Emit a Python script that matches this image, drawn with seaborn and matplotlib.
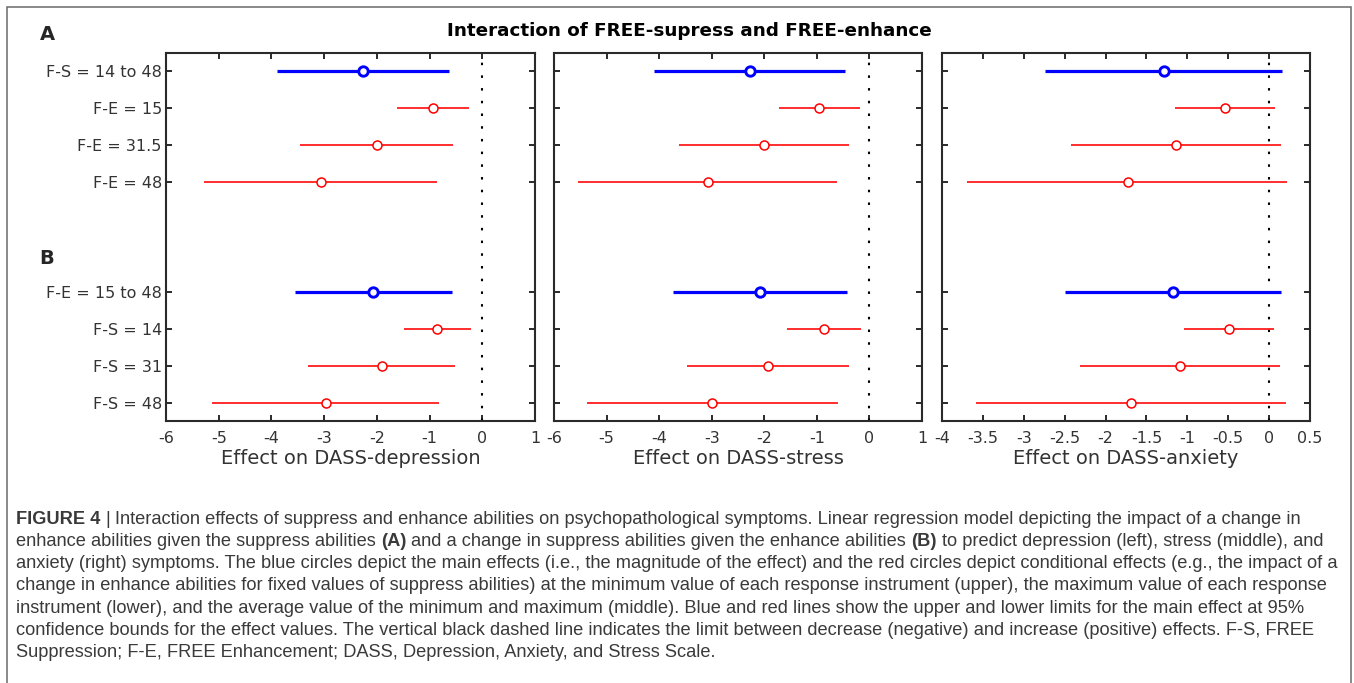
import numpy as np
import pandas as pd
import matplotlib
matplotlib.use('Agg')
import matplotlib.pyplot as plt
from matplotlib.patches import Rectangle
import seaborn as sns

# row labels (group A on top, group B below)
labels_a = ['F-S = 14 to 48', 'F-E = 15', 'F-E = 31.5', 'F-E = 48']
labels_b = ['F-E = 15 to 48', 'F-S = 14', 'F-S = 31', 'F-S = 48']
kinds = ['main', 'cond', 'cond', 'cond', 'main', 'cond', 'cond', 'cond']

# effect estimates and 95% bounds
dep_est = [-2.27, -0.94, -2.00, -3.06, -2.07, -0.85, -1.91, -2.97]
dep_lo = [-3.89, -1.62, -3.45, -5.27, -3.56, -1.48, -3.30, -5.12]
dep_hi = [-0.63, -0.26, -0.55, -0.85, -0.57, -0.22, -0.52, -0.82]

str_est = [-2.28, -0.95, -2.01, -3.07, -2.09, -0.86, -1.92, -2.99]
str_lo = [-4.10, -1.72, -3.63, -5.54, -3.74, -1.56, -3.47, -5.38]
str_hi = [-0.46, -0.18, -0.39, -0.62, -0.42, -0.16, -0.38, -0.60]

anx_est = [-1.29, -0.54, -1.14, -1.73, -1.18, -0.49, -1.09, -1.69]
anx_lo = [-2.74, -1.15, -2.42, -3.69, -2.50, -1.04, -2.31, -3.58]
anx_hi = [0.16, 0.07, 0.14, 0.22, 0.15, 0.06, 0.13, 0.21]

xlabels = ['Effect on DASS-depression', 'Effect on DASS-stress', 'Effect on DASS-anxiety']
title = 'Interaction of FREE-supress and FREE-enhance'

caption = [
    [('FIGURE 4', 'bold'), (' | ', 'normal'),
     ('Interaction effects of suppress and enhance abilities on psychopathological symptoms. '
      'Linear regression model depicting the impact of a change in', 'normal')],
    [('enhance abilities given the suppress abilities ', 'normal'), ('(A)', 'bold'),
     (' and a change in suppress abilities given the enhance abilities ', 'normal'), ('(B)', 'bold'),
     (' to predict depression (left), stress (middle), and', 'normal')],
    [('anxiety (right) symptoms. The blue circles depict the main effects (i.e., the magnitude of the '
      'effect) and the red circles depict conditional effects (e.g., the impact of a', 'normal')],
    [('change in enhance abilities for fixed values of suppress abilities) at the minimum value of each '
      'response instrument (upper), the maximum value of each response', 'normal')],
    [('instrument (lower), and the average value of the minimum and maximum (middle). Blue and red lines '
      'show the upper and lower limits for the main effect at 95%', 'normal')],
    [('confidence bounds for the effect values. The vertical black dashed line indicates the limit between '
      'decrease (negative) and increase (positive) effects. F-S, FREE', 'normal')],
    [('Suppression; F-E, FREE Enhancement; DASS, Depression, Anxiety, and Stress Scale.', 'normal')],
]

# y positions: group A rows 1-4, gap, group B rows 7-10
row_labels = labels_a + labels_b
pos = list(range(1, len(labels_a) + 1)) + list(range(len(labels_a) + 3, len(labels_a) + 3 + len(labels_b)))

panels = [
    (dep_est, dep_lo, dep_hi, np.arange(-6, 1.01, 1), (-6, 1)),
    (str_est, str_lo, str_hi, np.arange(-6, 1.01, 1), (-6, 1)),
    (anx_est, anx_lo, anx_hi, np.arange(-4, 0.51, 0.5), (-4, 0.5)),
]

sns.set_theme(style='ticks')
plt.rcParams['font.family'] = ['DejaVu Sans']
plt.rcParams['xtick.direction'] = 'in'
plt.rcParams['ytick.direction'] = 'in'

W, H = 1354, 683
fig = plt.figure(figsize=(W / 100, H / 100), dpi=100)
fig.patch.set_facecolor('white')

ax_boxes = [(166, 535), (554, 922), (942, 1310)]
top_px, bot_px = 52.7, 421
colors = {'main': 'blue', 'cond': 'red'}

for i, (est, lo, hi, ticks, lim) in enumerate(panels):
    x0, x1 = ax_boxes[i]
    ax = fig.add_axes([x0 / W, 1 - bot_px / H, (x1 - x0) / W, (bot_px - top_px) / H])
    df = pd.DataFrame({'label': row_labels, 'pos': pos, 'est': est, 'lo': lo, 'hi': hi, 'kind': kinds})

    ax.axvline(0, color='black', lw=1.5, ls=(0, (1.2, 4.9)), zorder=1)
    for kind, lw, mlw, ms in [('cond', 1.15, 1.1, 42), ('main', 2.3, 2.1, 46)]:
        d = df[df.kind == kind]
        ax.hlines(d.pos, d.lo, d.hi, color=colors[kind], lw=lw, zorder=2)
        sns.scatterplot(data=d, x='est', y='pos', ax=ax, marker='o', s=ms, color=colors[kind],
                        legend=False, zorder=3)
        coll = ax.collections[-1]
        coll.set_facecolor('white')
        coll.set_edgecolor(colors[kind])
        coll.set_linewidth(mlw)

    ax.set_xlim(*lim)
    ax.set_ylim(10.5, 0.5)
    ax.set_xticks(ticks)
    ax.set_xticklabels(['%g' % t for t in ticks])
    ax.set_yticks(pos)
    if i == 0:
        ax.set_yticklabels(row_labels, fontsize=12.3, color='#333333')
    else:
        ax.set_yticklabels([])
    ax.tick_params(axis='both', top=True, right=True, length=4.5, width=1.4, color='#2a2a2a',
                   labelsize=11.5, labelcolor='#333333', pad=7)
    ax.tick_params(axis='y', pad=3)
    for sp in ax.spines.values():
        sp.set_visible(True)
        sp.set_linewidth(1.5)
        sp.set_color('#2a2a2a')
    ax.set_xlabel(xlabels[i], fontsize=14, color='#333333', labelpad=2)
    ax.set_ylabel('')

fig.text(689 / W, 1 - 31 / H, title, fontsize=13.2, fontweight='bold', ha='center', va='center', color='black')
fig.text(47 / W, 1 - 35 / H, 'A', fontsize=14, fontweight='bold', ha='center', va='center')
fig.text(47 / W, 1 - 258 / H, 'B', fontsize=14, fontweight='bold', ha='center', va='center')

# outer frame, open at the bottom edge of the image
fig.add_artist(Rectangle((7 / W, -0.02), (1351 - 7) / W, (H - 7) / H + 0.02, transform=fig.transFigure,
                         fill=False, edgecolor='#6a6a6a', lw=1.1))

# caption, laid out piece by piece so bold parts sit in line
renderer = fig.canvas.get_renderer()
cap_font = ['Liberation Sans', 'DejaVu Sans']


def text_w(txt, size, weight):
    t = fig.text(0, 0, txt, fontsize=size, fontweight=weight, family=cap_font)
    w = t.get_window_extent(renderer).width
    t.remove()
    return w


def line_w(parts, size):
    total = 0
    for txt, weight in parts:
        core = txt.strip()
        total += text_w(core, size, weight)
        n_sp = len(txt) - len(txt.lstrip()) + len(txt) - len(txt.rstrip())
        total += n_sp * (text_w('a a', size, weight) - text_w('aa', size, weight))
    return total


base = 12.0
cap_size = base * (1306 - 16) / line_w(caption[0], base)
sp_w = text_w('a a', cap_size, 'normal') - text_w('aa', cap_size, 'normal')

for k, parts in enumerate(caption):
    y = 519 + k * 22.3
    x = 16
    for txt, weight in parts:
        x += (len(txt) - len(txt.lstrip())) * sp_w
        core = txt.strip()
        fig.text(x / W, 1 - y / H, core, fontsize=cap_size, fontweight=weight, family=cap_font,
                 color='#3a3a3a', va='center', ha='left')
        x += text_w(core, cap_size, weight)
        x += (len(txt) - len(txt.rstrip())) * sp_w

fig.savefig('out.png', dpi=100, facecolor='white')
